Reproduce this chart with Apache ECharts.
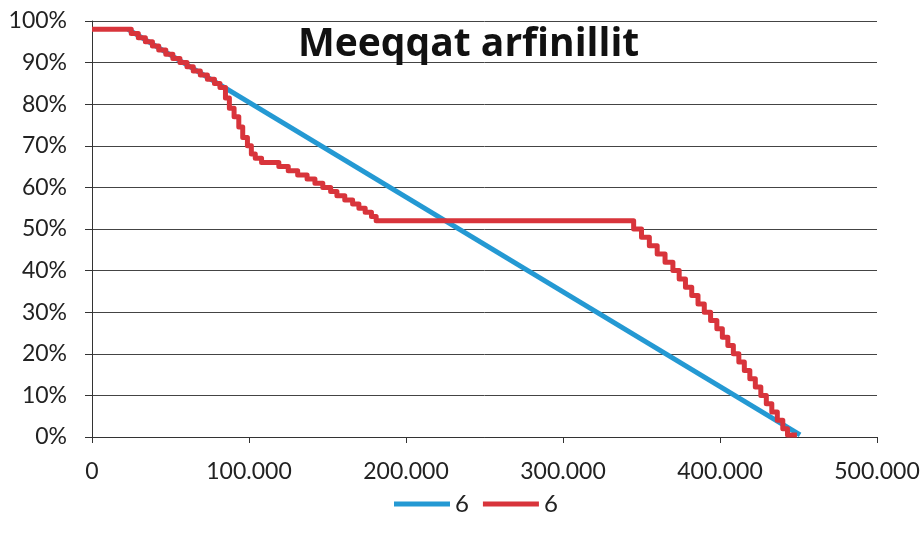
<!DOCTYPE html>
<html>
<head>
<meta charset="utf-8">
<script src="https://cdn.jsdelivr.net/npm/echarts@6/dist/echarts.min.js"></script>
<style>
html,body{margin:0;padding:0;background:#fff;}
#chart{width:923px;height:540px;}
</style>
</head>
<body>
<div id="chart"></div>
<script>
// x values in thousands, y values in percent
const titleText = "Meeqqat arfinillit";
const seriesNames = ["6", "6"];
const xTicks = [0, 100, 200, 300, 400, 500];
const yTicks = [0, 10, 20, 30, 40, 50, 60, 70, 80, 90, 100];

const blueX = [23, 451];
const blueY = [98, 0.5];

const redX = [0, 23, 25, 29.5, 34, 38.5, 42.5, 47, 51.5, 56, 60.5, 64.5, 69, 73.5, 78, 81.5,
  85, 87.5, 90.5, 93.5, 96, 99, 101.5, 104,
  108, 119, 125, 131, 137, 142, 147, 152, 156, 161, 166, 170, 174, 178, 181,
  343, 345, 350, 355, 360, 365, 370, 374, 378, 382, 386, 390, 394, 398,
  401.5, 405, 408.5, 412, 415.5, 419, 422.5, 426, 429.5, 433, 436.5, 440, 443, 449];
const redY = [98, 98, 97, 96, 95, 94, 93, 92, 91, 90, 89, 88, 87, 86, 85, 84,
  81.5, 79, 77, 74.5, 72, 70, 68, 67,
  66, 65, 64, 63, 62, 61, 60, 59, 58, 57, 56, 55, 54, 53, 52,
  52, 50, 48, 46, 44, 42, 40, 38, 36, 34, 32, 30, 28, 26,
  24, 22, 20, 18, 16, 14, 12, 10, 8, 6, 4, 2, 0.5, 0.5];

const pair = (xs, ys) => xs.map((x, i) => [x, ys[i]]);
const FONT = 'Lato';
const BLUE = '#2499d3';
const RED = '#d8343b';

const chart = echarts.init(document.getElementById('chart'), null, {renderer: 'canvas'});
chart.setOption({
  animation: false,
  backgroundColor: '#fff',
  title: {
    text: titleText,
    left: 293,
    top: 20,
    textStyle: {fontFamily: 'Open Sans', fontWeight: 'bold', fontSize: 39, color: '#111'}
  },
  legend: {
    bottom: 19,
    left: 389,
    itemWidth: 56,
    itemHeight: 5,
    itemGap: 14,
    icon: 'rect',
    textStyle: {fontFamily: FONT, fontSize: 24, color: '#222'},
    data: [{name: 's1'}, {name: 's2'}],
    formatter: n => n === 's1' ? seriesNames[0] : seriesNames[1]
  },
  grid: {left: 92, right: 46, top: 21, bottom: 103},
  xAxis: {
    type: 'value', min: 0, max: 500, interval: 100,
    axisLine: {show: true, lineStyle: {color: '#333', width: 1}},
    axisTick: {show: true, length: 6, lineStyle: {color: '#333'}},
    splitLine: {show: false},
    axisLabel: {fontFamily: FONT, fontSize: 23, color: '#222', margin: 23,
      formatter: v => v === 0 ? '0' : v + '.000'}
  },
  yAxis: {
    type: 'value', min: 0, max: 100, interval: 10,
    axisLine: {show: true, lineStyle: {color: '#333', width: 1}},
    axisTick: {show: true, length: 7, lineStyle: {color: '#333'}},
    splitLine: {show: true, lineStyle: {color: '#444', width: 1}},
    axisLabel: {fontFamily: FONT, fontSize: 23, color: '#222', margin: 25,
      formatter: v => v + '%'}
  },
  series: [
    {name: 's1', type: 'line', data: pair(blueX, blueY), showSymbol: false,
      lineStyle: {color: BLUE, width: 5}, itemStyle: {color: BLUE}, z: 2},
    {name: 's2', type: 'line', step: 'end', data: pair(redX, redY), showSymbol: false,
      lineStyle: {color: RED, width: 5, join: 'round'}, itemStyle: {color: RED}, z: 3}
  ]
});
</script>
</body>
</html>
